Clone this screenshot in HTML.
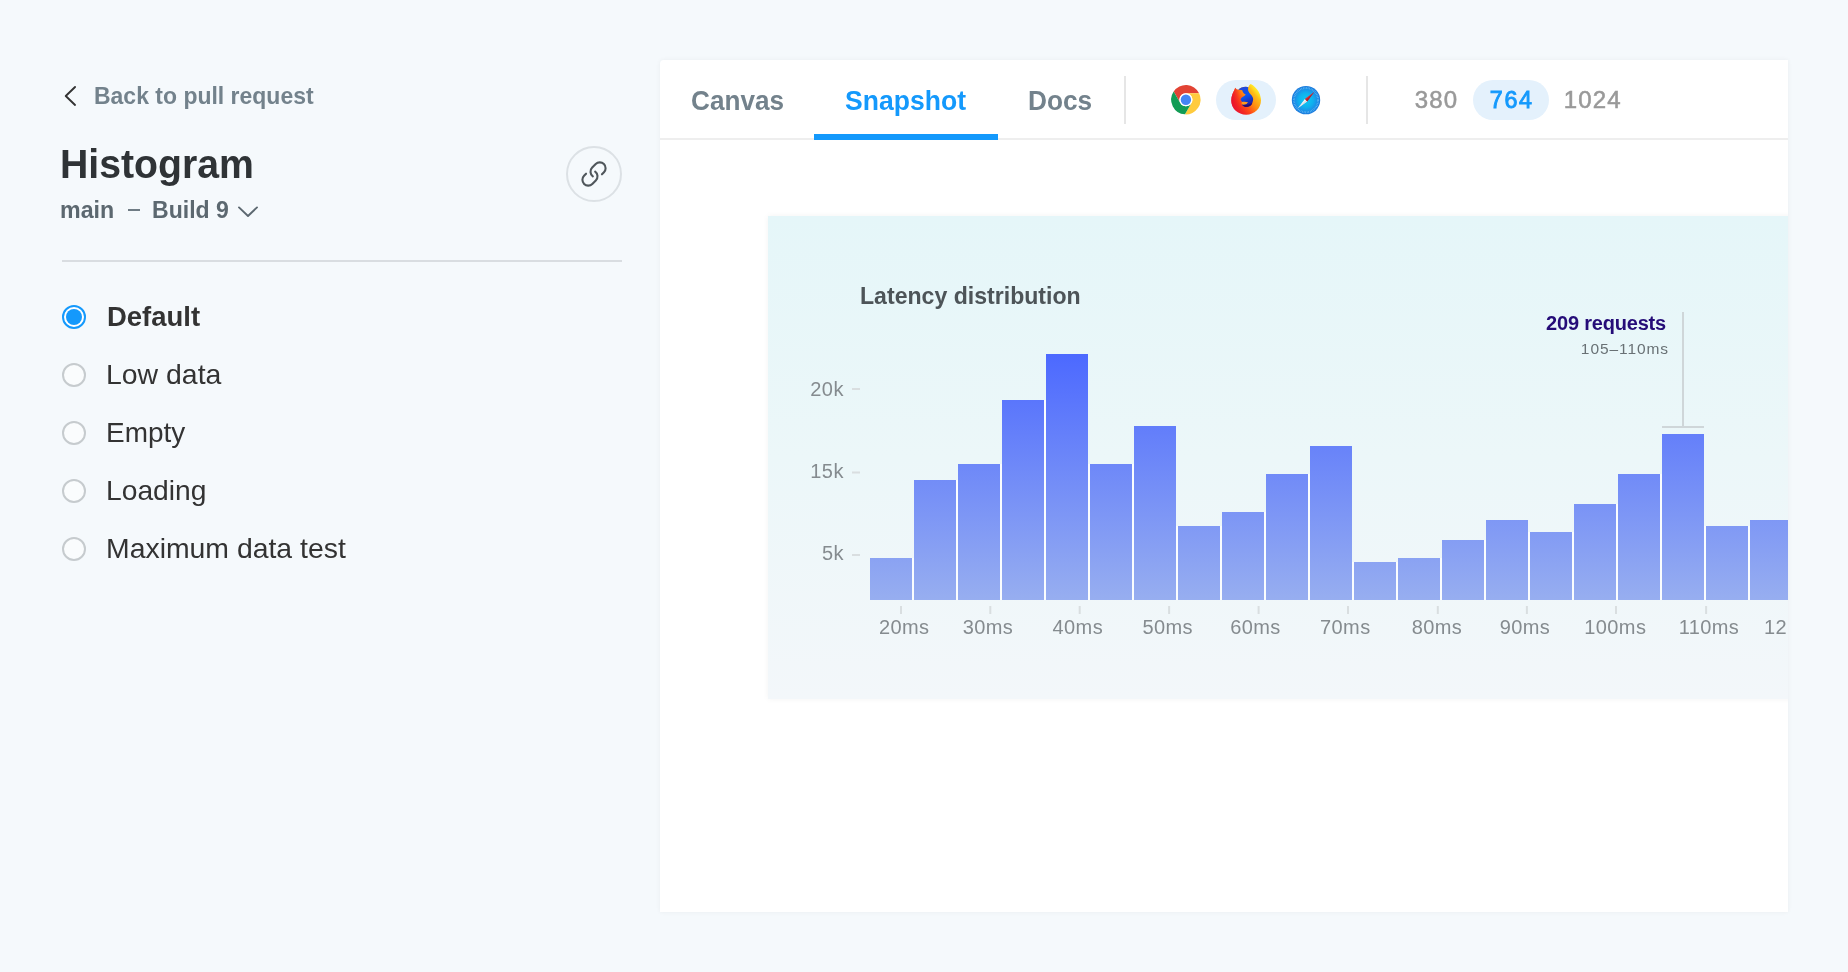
<!DOCTYPE html>
<html lang="en">
<head>
<meta charset="utf-8">
<title>Histogram – Snapshot</title>
<style>
  html, body { margin: 0; padding: 0; }
  #card { left: 108px; top: 156px; width: 1040px; height: 483px; background: linear-gradient(180deg, #E5F6F9 0%, #ECF7F9 50%, #F3F7FA 100%); box-shadow: 0 0 6px rgba(0,0,0,0.05); }
  #ctitle { color: #4D5458; }
  .ylab { left: 99px; width: 85px; text-align: right; font-size: 20px; letter-spacing: 0.5px; color: #858B8F; }
  .xlab { top: 557px; width: 80px; text-align: center; font-size: 20px; letter-spacing: 0.4px; color: #858B8F; }
  #ann1 { left: 800px; width: 206px; text-align: right; top: 253px; font-size: 20px; letter-spacing: -0.2px; color: #250C78; }
  #ann2 { left: 800px; width: 209px; text-align: right; top: 281px; font-size: 15.5px; letter-spacing: 0.92px; color: #697175; }
  body {
    width: 1848px; height: 972px; overflow: hidden; position: relative;
    background: #F5F9FC;
    font-family: "Liberation Sans", sans-serif;
    color: #333;
  }
  #root { position: absolute; left: 0; top: 0; width: 1848px; height: 972px; will-change: transform; }
  .t { position: absolute; white-space: nowrap; line-height: 1; margin: 0; }
  .b { font-weight: bold; }
  .sx { transform-origin: 0 0; }
  .abs { position: absolute; }

  /* ---------- left sidebar ---------- */
  #back-text   { color: #73828C; }
  #title       { color: #2F3336; }
  #branch      { color: #5C6870; }
  #build       { color: #5C6870; }
  #dash        { left: 128px; top: 209px; width: 12px; height: 2px; background: #6F7C85; }
  #linkbtn     { left: 566px; top: 146px; width: 52px; height: 52px; border: 2px solid #DCE1E5; border-radius: 50%; }
  #rule        { left: 62px;  top: 260px; width: 560px; height: 2px; background: #D9DDE1; }

  .radio { position: absolute; left: 62px; width: 20px; height: 20px; border-radius: 50%; border: 2px solid #C6CBCE; background: #FAFCFD; }
  .radio.on { border-color: #1499FC; background: #fff; }
  .radio.on::after { content: ""; position: absolute; left: 2px; top: 2px; width: 16px; height: 16px; border-radius: 50%; background: #1499FC; }
  .opt { color: #333; }

  /* ---------- right panel ---------- */
  #panel { left: 660px; top: 60px; width: 1128px; height: 852px; background: #fff; border-radius: 4px 0 0 0; overflow: hidden;
           box-shadow: 0 0 5px rgba(0,0,0,0.05); }
  #tabline { left: 0; top: 78px; width: 1128px; height: 2px; background: #EEEEEE; }
  #tabactive { left: 154px; top: 74px; width: 184px; height: 6px; background: #1499FC; }
  .tab { color: #73828C; }
  .vdiv { top: 16px; width: 2px; height: 48px; background: #E6E6E6; }
  .pill { background: #E4F1FC; border-radius: 20px; height: 40px; top: 20px; }
  .vp { font-size: 24px; color: #999; top: 28px; letter-spacing: 1.1px; -webkit-text-stroke: 0.55px #999; }
  .vp.on { color: #1499FC; -webkit-text-stroke: 0.9px #1499FC; font-size: 23.3px; letter-spacing: 1.7px; top: 29px; }
</style>
</head>
<body>
<div id="root">

<!-- ================= LEFT SIDEBAR ================= -->
<svg class="abs" style="left:62px;top:84px" width="18" height="24" viewBox="0 0 18 24">
  <path d="M13.05 2.95 L3.75 12 L13.05 20.95" fill="none" stroke="#333" stroke-width="1.9" stroke-linecap="round" stroke-linejoin="round"/>
</svg>
<div class="t b sx" id="back-text" style="left:94.36px;top:84.16px;font-size:24.5px;transform:scaleX(0.9378);">Back to pull request</div>

<div class="t b sx" id="title" style="left:59.98px;top:144.26px;font-size:40.8px;transform:scaleX(0.9611);">Histogram</div>
<div class="t b sx" id="branch" style="left:59.75px;top:198.26px;font-size:24.5px;transform:scaleX(0.9472);">main</div>
<div class="abs" id="dash"></div>
<div class="t b sx" id="build" style="left:152.46px;top:198.26px;font-size:24.5px;transform:scaleX(0.9407);">Build 9</div>
<svg class="abs" style="left:236px;top:204px" width="24" height="16" viewBox="0 0 24 16">
  <path d="M3 3.4 L12 12 L21 3.4" fill="none" stroke="#5C6870" stroke-width="1.9" stroke-linecap="round" stroke-linejoin="round"/>
</svg>

<div class="abs" id="linkbtn"></div>
<svg class="abs" style="left:580px;top:160px" width="28" height="28" viewBox="0 0 24 24">
  <g transform="matrix(0 -1 -1 0 24 24)" fill="none" stroke="#4F565B" stroke-width="1.8" stroke-linecap="round" stroke-linejoin="round">
    <path d="M10 13a5 5 0 0 0 7.54.54l3-3a5 5 0 0 0-7.07-7.07l-1.72 1.71"/>
    <path d="M14 11a5 5 0 0 0-7.54-.54l-3 3a5 5 0 0 0 7.07 7.07l1.71-1.71"/>
  </g>
</svg>

<div class="abs" id="rule"></div>

<div class="radio on" style="top:305px"></div>
<div class="t b sx opt" style="left:106.74px;top:301.67px;font-size:28.5px;transform:scaleX(0.9636);">Default</div>
<div class="radio" style="top:363px"></div>
<div class="t sx opt" style="left:106.01px;top:359.87px;font-size:28.5px;transform:scaleX(0.9972);">Low data</div>
<div class="radio" style="top:421px"></div>
<div class="t sx opt" style="left:106.04px;top:417.77px;font-size:28.5px;transform:scaleX(0.9809);">Empty</div>
<div class="radio" style="top:479px"></div>
<div class="t sx opt" style="left:106.02px;top:475.87px;font-size:28.5px;transform:scaleX(0.99);">Loading</div>
<div class="radio" style="top:537px"></div>
<div class="t sx opt" style="left:106.01px;top:533.87px;font-size:28.5px;transform:scaleX(0.9961);">Maximum data test</div>

<!-- ================= RIGHT PANEL ================= -->
<div class="abs" id="panel">
  <div class="abs" id="tabline"></div>
  <div class="abs" id="tabactive"></div>
  <div class="t b sx tab" style="left:30.58px;top:25.77px;font-size:28.5px;transform:scaleX(0.9172);">Canvas</div>
  <div class="t b sx tab" style="left:184.50px;top:25.77px;font-size:28.5px;transform:scaleX(0.9321);color:#1499FC;">Snapshot</div>
  <div class="t b sx tab" style="left:368.48px;top:25.77px;font-size:28.5px;transform:scaleX(0.9198);">Docs</div>
  <div class="abs vdiv" style="left:464px"></div>
  <div class="abs vdiv" style="left:706px"></div>

  <!-- BROWSERS -->
  <div class="abs pill" style="left:556px;width:60px"></div>
  <!-- chrome -->
  <svg class="abs" style="left:506px;top:20px" width="40" height="40" viewBox="-19.9 -19.7 40 40">
    <circle r="14.7" fill="#fff"/>
    <path fill="#E24334" d="M0.00 -6.50 L13.18 -6.50 A14.7 14.7 0 0 0 -12.22 -8.17 L-5.63 3.25 A6.5 6.5 0 0 1 0.00 -6.50Z"/>
    <path fill="#FFCB3E" d="M5.63 3.25 L-0.96 14.67 A14.7 14.7 0 0 0 13.18 -6.50 L0.00 -6.50 A6.5 6.5 0 0 1 5.63 3.25Z"/>
    <path fill="#129C55" d="M-5.63 3.25 L-12.22 -8.17 A14.7 14.7 0 0 0 -0.96 14.67 L5.63 3.25 A6.5 6.5 0 0 1 -5.63 3.25Z"/>
    <circle r="6.5" fill="#fff"/>
    <circle r="5.2" fill="#4385F4"/>
  </svg>
  <!-- firefox -->
  <svg class="abs" style="left:566px;top:20px" width="40" height="40" viewBox="0 0 40 40">
    <defs>
      <linearGradient id="ffg" gradientUnits="userSpaceOnUse" x1="33" y1="8" x2="7" y2="30">
        <stop offset="0" stop-color="#FFF544"/>
        <stop offset="0.12" stop-color="#FFE122"/>
        <stop offset="0.22" stop-color="#FFBC18"/>
        <stop offset="0.45" stop-color="#FF8A12"/>
        <stop offset="0.65" stop-color="#FF4A18"/>
        <stop offset="0.8" stop-color="#F42A22"/>
        <stop offset="1" stop-color="#E4103A"/>
      </linearGradient>
      <linearGradient id="ffr" gradientUnits="userSpaceOnUse" x1="5" y1="0" x2="15" y2="0">
        <stop offset="0" stop-color="#E80F30" stop-opacity="0.95"/>
        <stop offset="1" stop-color="#F02020" stop-opacity="0"/>
      </linearGradient>
      <linearGradient id="ffb" gradientUnits="userSpaceOnUse" x1="15" y1="7" x2="25" y2="26">
        <stop offset="0" stop-color="#2443D6"/>
        <stop offset="0.45" stop-color="#0B57F0"/>
        <stop offset="0.8" stop-color="#1A2DB4"/>
        <stop offset="1" stop-color="#2A1590"/>
      </linearGradient>
    </defs>
    <path id="ffbody" fill="url(#ffg)" d="M9.3 7.8 C10 9 11 9.7 12.3 9.8 C14 7.8 17 6.6 20 6.7 C20.8 6.7 21.6 6.9 22.3 7.2 C22.8 5.9 23.6 4.9 24.7 4.1 C26.2 4.9 27.7 5.9 28.8 7 C30.4 8.4 31.6 9.9 32.5 11.5 C33.6 13.3 34.3 15.2 34.6 17.3 C34.9 18.4 35 19.5 35 20.6 C35 28.4 28.4 34.8 20.2 34.8 C12 34.8 5.3 28.4 5.3 20.6 C5.3 18.6 5.6 16.6 6.2 14.8 C6.7 13.2 7.4 11.6 8.2 10.3 C8.5 9.4 8.9 8.6 9.3 7.8 Z"/>
    <path fill="url(#ffr)" d="M9.3 7.8 C10 9 11 9.7 12.3 9.8 L16 10 L16 34 C10 33 5.3 27.6 5.3 20.6 C5.3 18.6 5.6 16.6 6.2 14.8 C6.7 13.2 7.4 11.6 8.2 10.3 C8.5 9.4 8.9 8.6 9.3 7.8 Z"/>
    <path fill="url(#ffb)" d="M12.3 9.7 C14 7.8 17 6.6 20 6.7 C20.8 6.7 21.6 6.9 22.3 7.3 C22 8.4 22 9.6 22.2 10.7 C22.6 12.1 23.4 13.1 24.3 14 C25.3 15 26.2 16.1 26.7 17.3 C27.2 18.4 27.3 19.5 27 20.6 C26.8 22 26.3 23.2 25.5 24.3 C24.8 25.2 24 25.9 23 26.3 C22.2 26.8 21.3 27 20.5 27 C19.6 27 18.8 26.8 18 26.3 C17.2 25.9 16.5 25.4 16 24.7 C16.3 23.7 16.3 22.8 16 21.8 C15.3 21.1 14.8 20.3 14.6 19.3 C14.9 18.3 15.6 17.5 16.5 16.9 C17.7 16.3 18.9 15.5 19.8 14.4 C18.7 14.2 17.8 13.7 17.3 12.8 C16.7 12 16.4 11.2 16.3 10.3 C15 9.7 13.6 9.5 12.3 9.7 Z"/>
    <path fill="#2C0B72" d="M16 24.5 C18 25 20.6 25 22.6 24.4 C24 24 25.3 23.6 26.3 22.9 C25.8 24.6 24.6 25.9 23 26.5 C21.4 27.2 19.6 27.1 18 26.4 C17.2 25.9 16.5 25.3 16 24.5 Z"/>
    <path fill="#FF9A1E" d="M16 22 C17.8 21.6 20.2 21.6 22.4 22.6 C21.6 22.9 21 23.4 20.6 24 C19.2 24.6 17.4 24.8 16.2 24.6 C15.4 23.8 15.4 22.8 16 22 Z"/>
  </svg>
  <!-- safari -->
  <svg class="abs" style="left:626px;top:20px" width="40" height="40" viewBox="0 0 40 40">
    <defs>
      <radialGradient id="sfg" cx="0.5" cy="0.5" r="0.5">
        <stop offset="0" stop-color="#0CCBF3"/>
        <stop offset="0.5" stop-color="#10B0EE"/>
        <stop offset="0.78" stop-color="#1A90E8"/>
        <stop offset="1" stop-color="#1C7ADC"/>
      </radialGradient>
    </defs>
    <circle cx="20" cy="20.1" r="14.2" fill="url(#sfg)"/>
    <circle cx="20" cy="20.1" r="12.1" fill="none" stroke="#7CC8F8" stroke-width="1.9" stroke-dasharray="0.6 0.98" opacity="0.8"/>
    <path fill="#F4F8FB" d="M11.8 28.3 L18.9 19 L21.1 21.2 Z"/>
    <path fill="#D9DEE4" d="M11.8 28.3 L20 20.1 L21.3 21.4 Z"/>
    <path fill="#DC2A33" d="M28.2 11.9 L18.9 19 L21.1 21.2 Z"/>
    <path fill="#B81E2A" d="M28.2 11.9 L20 20.1 L21.3 21.4 Z"/>
  </svg>
  <!-- VIEWPORTS -->
  <div class="abs pill" style="left:813px;width:76px"></div>
  <div class="t vp" style="left:754.8px">380</div>
  <div class="t vp on" style="left:829.8px">764</div>
  <div class="t vp" style="left:903.8px">1024</div>

  <!-- CHART -->
  <div class="abs" id="card"></div>
  <svg class="abs" style="left:0;top:0" width="1128" height="853" viewBox="0 0 1128 853">
    <defs>
      <linearGradient id="barg" gradientUnits="userSpaceOnUse" x1="0" y1="294" x2="0" y2="540">
        <stop offset="0" stop-color="#4C69FF"/>
        <stop offset="1" stop-color="#97AEF0"/>
      </linearGradient>
    </defs>
    <g fill="url(#barg)">
      <rect x="210" y="498" width="42" height="42"/>
      <rect x="254" y="420" width="42" height="120"/>
      <rect x="298" y="404" width="42" height="136"/>
      <rect x="342" y="340" width="42" height="200"/>
      <rect x="386" y="294" width="42" height="246"/>
      <rect x="430" y="404" width="42" height="136"/>
      <rect x="474" y="366" width="42" height="174"/>
      <rect x="518" y="466" width="42" height="74"/>
      <rect x="562" y="452" width="42" height="88"/>
      <rect x="606" y="414" width="42" height="126"/>
      <rect x="650" y="386" width="42" height="154"/>
      <rect x="694" y="502" width="42" height="38"/>
      <rect x="738" y="498" width="42" height="42"/>
      <rect x="782" y="480" width="42" height="60"/>
      <rect x="826" y="460" width="42" height="80"/>
      <rect x="870" y="472" width="42" height="68"/>
      <rect x="914" y="444" width="42" height="96"/>
      <rect x="958" y="414" width="42" height="126"/>
      <rect x="1002" y="374" width="42" height="166"/>
      <rect x="1046" y="466" width="42" height="74"/>
      <rect x="1090" y="460" width="42" height="80"/>
    </g>
    <g fill="#FAFDFE">
      <rect x="252" y="498" width="2" height="42"/>
      <rect x="296" y="420" width="2" height="120"/>
      <rect x="340" y="404" width="2" height="136"/>
      <rect x="384" y="340" width="2" height="200"/>
      <rect x="428" y="404" width="2" height="136"/>
      <rect x="472" y="404" width="2" height="136"/>
      <rect x="516" y="466" width="2" height="74"/>
      <rect x="560" y="466" width="2" height="74"/>
      <rect x="604" y="452" width="2" height="88"/>
      <rect x="648" y="414" width="2" height="126"/>
      <rect x="692" y="502" width="2" height="38"/>
      <rect x="736" y="502" width="2" height="38"/>
      <rect x="780" y="498" width="2" height="42"/>
      <rect x="824" y="480" width="2" height="60"/>
      <rect x="868" y="472" width="2" height="68"/>
      <rect x="912" y="472" width="2" height="68"/>
      <rect x="956" y="444" width="2" height="96"/>
      <rect x="1000" y="414" width="2" height="126"/>
      <rect x="1044" y="466" width="2" height="74"/>
      <rect x="1088" y="466" width="2" height="74"/>
    </g>
    <g fill="#D9DEE0">
      <rect x="240.0" y="546" width="2" height="8"/>
      <rect x="329.3" y="546" width="2" height="8"/>
      <rect x="418.7" y="546" width="2" height="8"/>
      <rect x="508.1" y="546" width="2" height="8"/>
      <rect x="597.6" y="546" width="2" height="8"/>
      <rect x="687.0" y="546" width="2" height="8"/>
      <rect x="776.8" y="546" width="2" height="8"/>
      <rect x="865.9" y="546" width="2" height="8"/>
      <rect x="955.0" y="546" width="2" height="8"/>
      <rect x="1045.1" y="546" width="2" height="8"/>
      <rect x="192" y="328" width="8" height="2"/>
      <rect x="192" y="411.5" width="8" height="2"/>
      <rect x="192" y="494" width="8" height="2"/>
    </g>
    <g fill="#CFD6D9">
      <rect x="1022" y="252" width="2" height="115"/>
      <rect x="1002" y="366" width="42" height="2"/>
    </g>
  </svg>
  <div class="t b sx" id="ctitle" style="left:199.96px;top:224.16px;font-size:24.5px;transform:scaleX(0.9425);">Latency distribution</div>
  <div class="t ylab" style="top:319px">20k</div>
  <div class="t ylab" style="top:401px">15k</div>
  <div class="t ylab" style="top:483px">5k</div>
  <div class="t xlab" style="left:204.2px">20ms</div>
  <div class="t xlab" style="left:288.0px">30ms</div>
  <div class="t xlab" style="left:377.8px">40ms</div>
  <div class="t xlab" style="left:467.7px">50ms</div>
  <div class="t xlab" style="left:555.4px">60ms</div>
  <div class="t xlab" style="left:645.3px">70ms</div>
  <div class="t xlab" style="left:737.0px">80ms</div>
  <div class="t xlab" style="left:825.0px">90ms</div>
  <div class="t xlab" style="left:915.3px">100ms</div>
  <div class="t xlab" style="left:1009.0px">110ms</div>
  <div class="t xlab" style="left:1104px;width:auto;text-align:left">12</div>
  <div class="t b" id="ann1">209 requests</div>
  <div class="t" id="ann2">105–110ms</div>
</div>

</div>
</body>
</html>
